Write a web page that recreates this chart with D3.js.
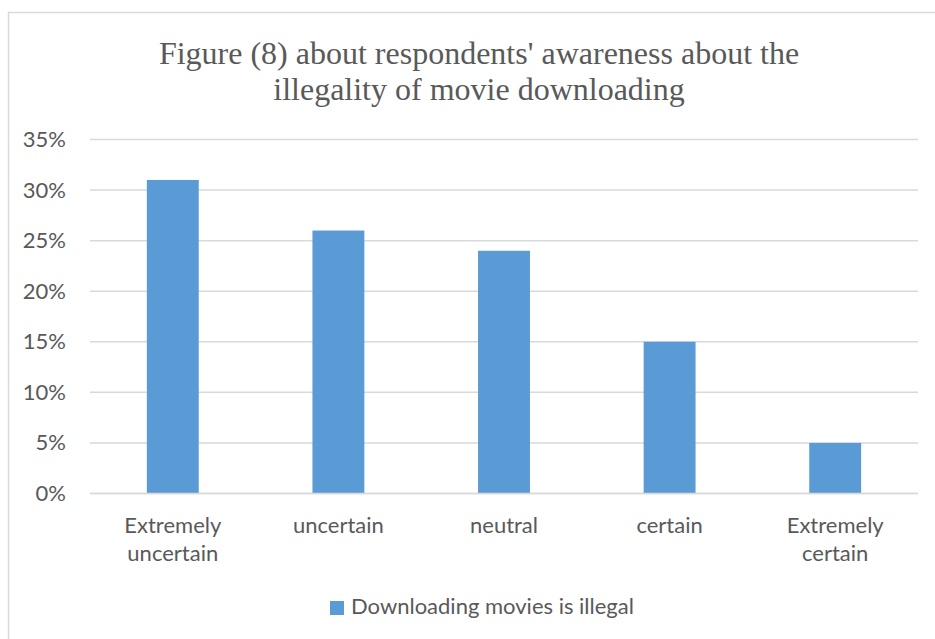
<!DOCTYPE html>
<html>
<head>
<meta charset="utf-8">
<script src="https://cdn.jsdelivr.net/npm/d3@7/dist/d3.min.js"></script>
<style>
  html, body { margin: 0; padding: 0; background: #fff; }
  svg { display: block; }
</style>
</head>
<body>
<svg id="chart" width="935" height="639"></svg>
<script>
// Survey answers: awareness that downloading movies is illegal
const categories = [["Extremely", "uncertain"], ["uncertain"], ["neutral"], ["certain"], ["Extremely", "certain"]];
const values = [0.31, 0.26, 0.24, 0.15, 0.05];
const tickValues = [0, 0.05, 0.10, 0.15, 0.20, 0.25, 0.30, 0.35];
const seriesName = "Downloading movies is illegal";
const titleLines = ["Figure (8) about respondents' awareness about the", "illegality of movie downloading"];

const svg = d3.select("#chart");
const W = 935, H = 639;
const textColor = "#595959";
const gridColor = "#d9d9d9";
const barColor = "#5b9bd5";
const labelFont = "Lato, 'Open Sans', sans-serif";
const labelSize = 22;

// chart frame (top and left edges visible)
svg.append("path")
  .attr("d", `M8.5,${H} V12.5 H${W}`)
  .attr("fill", "none")
  .attr("stroke", gridColor)
  .attr("stroke-width", 1.5);

const plot = { left: 90, right: 918, top: 139.5, bottom: 493.5 };

const x = d3.scaleBand()
  .domain(d3.range(categories.length))
  .range([plot.left, plot.right])
  .paddingInner(2.19 / 3.19)
  .paddingOuter(2.19 / 3.19 / 2);

const y = d3.scaleLinear()
  .domain([0, 0.35])
  .range([plot.bottom, plot.top]);

// title
const titleX = 479;
svg.append("text")
  .attr("text-anchor", "middle")
  .attr("font-family", "'Liberation Serif', 'Times New Roman', serif")
  .attr("font-size", 32)
  .attr("fill", textColor)
  .selectAll("tspan")
  .data(titleLines)
  .join("tspan")
  .attr("x", titleX)
  .attr("y", (d, i) => 63.5 + i * 36.5)
  .text(d => d);

// gridlines
svg.append("g")
  .selectAll("line")
  .data(tickValues)
  .join("line")
  .attr("x1", plot.left)
  .attr("x2", plot.right)
  .attr("y1", d => y(d))
  .attr("y2", d => y(d))
  .attr("stroke", gridColor)
  .attr("stroke-width", 1.5);

// y axis labels
const yAxis = d3.axisLeft(y)
  .tickValues(tickValues)
  .tickFormat(d3.format(".0%"))
  .tickSize(0)
  .tickPadding(24);

const yg = svg.append("g")
  .attr("transform", `translate(${plot.left},0)`)
  .call(yAxis);
yg.select(".domain").remove();
yg.selectAll("text")
  .attr("font-family", labelFont)
  .attr("font-size", labelSize)
  .attr("fill", textColor);

// bars
svg.append("g")
  .selectAll("rect")
  .data(values)
  .join("rect")
  .attr("x", (d, i) => x(i))
  .attr("width", x.bandwidth())
  .attr("y", d => y(d))
  .attr("height", d => y(0) - y(d))
  .attr("fill", barColor);

// x axis baseline drawn over bar bottoms
svg.append("line")
  .attr("x1", plot.left)
  .attr("x2", plot.right)
  .attr("y1", y(0))
  .attr("y2", y(0))
  .attr("stroke", gridColor)
  .attr("stroke-width", 1.5);

// category labels
const xg = svg.append("g");
categories.forEach((lines, i) => {
  const t = xg.append("text")
    .attr("text-anchor", "middle")
    .attr("font-family", labelFont)
    .attr("font-size", labelSize)
    .attr("fill", textColor);
  lines.forEach((line, j) => {
    t.append("tspan")
      .attr("x", x(i) + x.bandwidth() / 2)
      .attr("y", 533 + j * 28)
      .text(line);
  });
});

// legend
const legend = svg.append("g");
legend.append("rect")
  .attr("x", 330)
  .attr("y", 601)
  .attr("width", 14)
  .attr("height", 14)
  .attr("fill", barColor);
legend.append("text")
  .attr("x", 351)
  .attr("y", 614)
  .attr("font-family", labelFont)
  .attr("font-size", labelSize)
  .attr("fill", textColor)
  .text(seriesName);
</script>
</body>
</html>
